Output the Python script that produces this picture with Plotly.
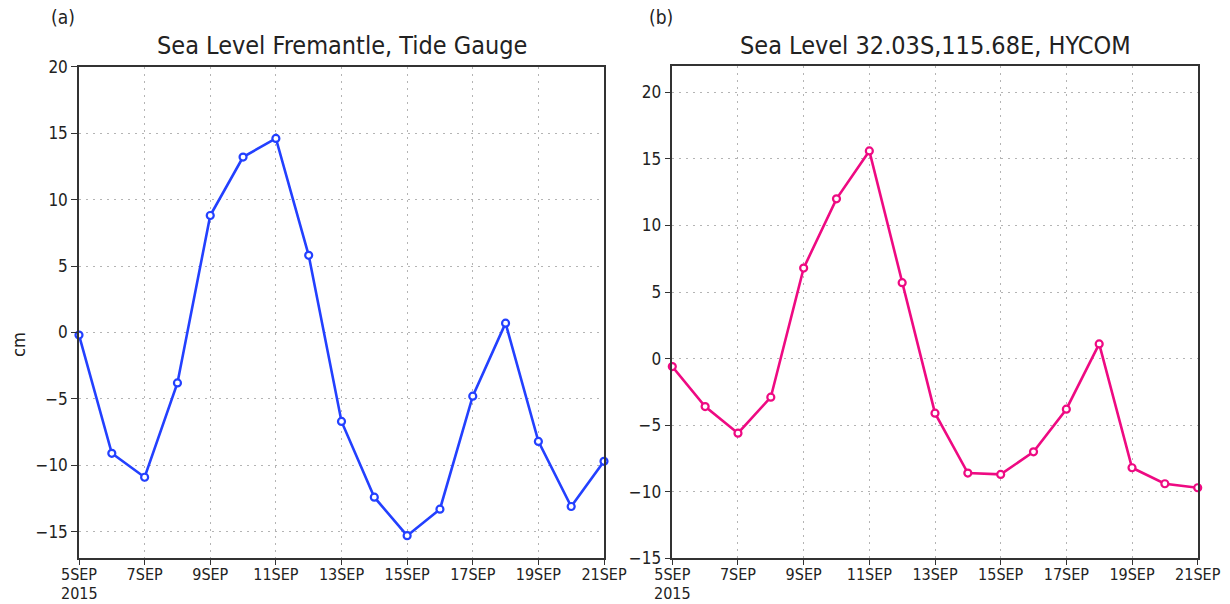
import pandas as pd
import plotly.graph_objects as go

# Daily sea level anomalies (cm), 5-21 September 2015
dates = pd.date_range("2015-09-05", "2015-09-21", freq="D")
tide_gauge = [-0.2, -9.1, -10.9, -3.8, 8.8, 13.2, 14.6, 5.8, -6.7,
              -12.4, -15.3, -13.3, -4.8, 0.7, -8.2, -13.1, -9.7]
hycom = [-0.6, -3.6, -5.6, -2.9, 6.8, 12.0, 15.6, 5.7, -4.1,
         -8.6, -8.7, -7.0, -3.8, 1.1, -8.2, -9.4, -9.7]

tick_dates = dates[::2]
tick_text = ["5SEP", "7SEP", "9SEP", "11SEP", "13SEP",
             "15SEP", "17SEP", "19SEP", "21SEP"]
year_label = "2015"
y_ticks = [-15, -10, -5, 0, 5, 10, 15, 20]

FONT = "DejaVu Sans Condensed, Liberation Sans Narrow, sans-serif"
AXIS_COLOR = "#333333"
TEXT_COLOR = "#222222"
GRID = dict(showgrid=True, gridcolor="#b4b4b4", griddash="2px,5px", gridwidth=1)

fig = go.Figure()

def add_series(values, color, xa, ya):
    fig.add_trace(go.Scatter(
        x=dates, y=values, xaxis=xa, yaxis=ya, mode="lines+markers",
        line=dict(color=color, width=2.6),
        marker=dict(symbol="circle", size=7, color="white",
                    line=dict(color=color, width=2.2)),
        cliponaxis=False, showlegend=False,
    ))

add_series(tide_gauge, "#2340ff", "x", "y")
add_series(hycom, "#ee0a82", "x2", "y2")

x_common = dict(
    GRID,
    type="date", range=[dates[0], dates[-1]],
    tickmode="array", tickvals=tick_dates, ticktext=tick_text,
    ticks="outside", ticklen=5, tickcolor=AXIS_COLOR, tickwidth=1,
    ticklabelstandoff=-4,
    showline=True, linecolor=AXIS_COLOR, linewidth=1.5, mirror=True,
    tickfont=dict(family=FONT, size=16, color=TEXT_COLOR),
    zeroline=False, fixedrange=True, automargin=False,
)
y_common = dict(
    GRID,
    tickmode="array", tickvals=y_ticks,
    ticks="outside", ticklen=6, tickcolor=AXIS_COLOR, tickwidth=1,
    showline=True, linecolor=AXIS_COLOR, linewidth=1.5, mirror=True,
    tickfont=dict(family=FONT, size=17, color=TEXT_COLOR),
    zeroline=False, fixedrange=True, automargin=False,
)

W, H = 1230, 604
fig.update_layout(
    width=W, height=H,
    margin=dict(l=0, r=0, t=0, b=0),
    paper_bgcolor="white", plot_bgcolor="white",
    xaxis=dict(x_common, domain=[79 / W, 604 / W], anchor="y"),
    yaxis=dict(y_common, domain=[(H - 558.3) / H, (H - 66.7) / H],
               range=[-17, 20], anchor="x"),
    xaxis2=dict(x_common, domain=[672.3 / W, 1197.7 / W], anchor="y2"),
    yaxis2=dict(y_common, domain=[(H - 558.3) / H, (H - 65.7) / H],
                range=[-15, 22], anchor="x2"),
)

annotations = [
    dict(text="(a)", x=63 / W, y=(H - 17) / H, size=19),
    dict(text="(b)", x=661 / W, y=(H - 17) / H, size=19),
    dict(text="Sea Level Fremantle, Tide Gauge", x=341.5 / W, y=(H - 46) / H, size=25),
    dict(text="Sea Level 32.03S,115.68E, HYCOM", x=935 / W, y=(H - 46) / H, size=25),
    dict(text="cm", x=18 / W, y=(H - 345) / H, size=18, angle=-90),
]
for a in annotations:
    fig.add_annotation(
        text=a["text"], x=a["x"], y=a["y"], xref="paper", yref="paper",
        xanchor="center", yanchor="middle", showarrow=False,
        textangle=a.get("angle", 0),
        font=dict(family=FONT, size=a["size"], color=TEXT_COLOR),
    )

# year line beneath the first date tick of each panel
for x_px in (79, 672.3):
    fig.add_annotation(
        text=year_label, x=x_px / W, y=0, xref="paper", yref="paper",
        xanchor="center", yanchor="bottom", showarrow=False, borderpad=0,
        font=dict(family=FONT, size=16, color=TEXT_COLOR),
    )

fig.write_html("out.html")
